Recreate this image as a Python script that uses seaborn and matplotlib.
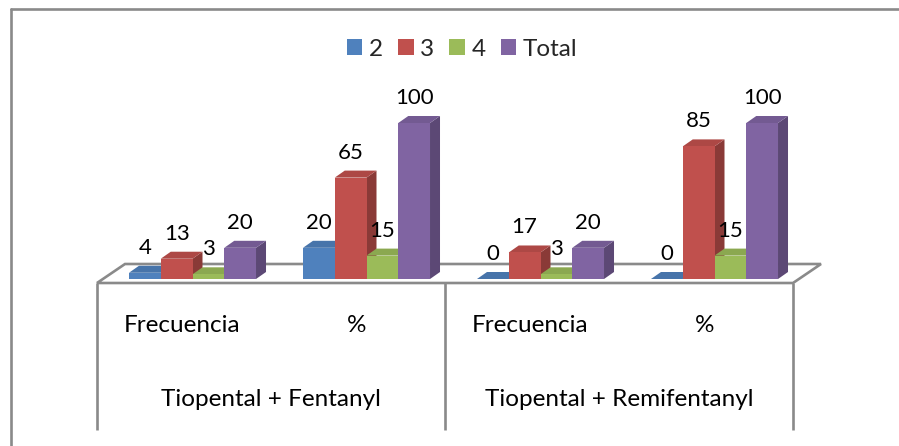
import numpy as np
import pandas as pd
import seaborn as sns
import matplotlib.pyplot as plt
from matplotlib.patches import Polygon, Patch
from matplotlib.lines import Line2D

# ---- data -------------------------------------------------------------
groups = ["Tiopental + Fentanyl", "Tiopental + Remifentanyl"]
categories = ["Frecuencia", "%", "Frecuencia", "%"]
series = ["2", "3", "4", "Total"]
values_2 = [4, 20, 0, 0]
values_3 = [13, 65, 17, 85]
values_4 = [3, 15, 3, 15]
values_total = [20, 100, 20, 100]
colors = ["#4F81BD", "#C0504D", "#9BBB59", "#8064A2"]

series_values = [values_2, values_3, values_4, values_total]
keys = [f"{groups[i // 2]} | {c}" for i, c in enumerate(categories)]
df = pd.DataFrame(
    [(keys[i], s, v) for s, vals in zip(series, series_values) for i, v in enumerate(vals)],
    columns=["key", "serie", "value"],
)

# ---- figure / axes ----------------------------------------------------
sns.set_theme(style="white")
plt.rcParams["font.family"] = ["Lato", "DejaVu Sans"]

W, H = 899, 446
fig = plt.figure(figsize=(W / 100, H / 100), dpi=100)
fig.patch.set_facecolor("white")

PX_CAT = 174.0   # pixels per category
PX_VAL = 1.56    # pixels per value unit
YMAX = 110
ax = fig.add_axes([(192.5 - 0.5 * PX_CAT) / W, 167 / H, 4 * PX_CAT / W, YMAX * PX_VAL / H])

sns.barplot(data=df, x="key", y="value", hue="serie", hue_order=series, order=keys,
            palette=colors, saturation=1, width=0.73, legend=False, ax=ax,
            linewidth=0, edgecolor="none")
ax.set_xlim(-0.5, 3.5)
ax.set_ylim(0, YMAX)
ax.axis("off")

sx = 1.0 / PX_CAT
sy = 1.0 / PX_VAL


def off(x, y, dxp, dyp):
    """Shift a data point by a pixel offset (dyp positive = up)."""
    return (x + dxp * sx, y + dyp * sy)


GRAY = "#8A8A8A"

# floor (3-D base plate)
fl = [off(-0.5, 0, -8.5, -4), off(3.5, 0, -8.5, -4),
      off(3.5, 0, 19.5, 15), off(-0.5, 0, 19.5, 15)]
ax.add_patch(Polygon(fl, closed=True, facecolor="white", edgecolor=GRAY,
                     linewidth=1.9, zorder=1, clip_on=False, joinstyle="miter"))

# multi-level category axis: separators
for b in [-0.5, 1.5, 3.5]:
    x0, y0 = off(b, 0, -8.5, -4)
    _, y1 = off(b, 0, -8.5, -151)
    ax.add_line(Line2D([x0, x0], [y0, y1], color=GRAY, linewidth=1.9, clip_on=False,
                       zorder=1, solid_capstyle="butt"))

for i, c in enumerate(categories):
    x, y = off(i, 0, -10, -47)
    ax.text(x, y, c, ha="center", va="center", fontsize=17.5, color="black", clip_on=False)
for g, name in enumerate(groups):
    x, y = off(0.5 + 2 * g, 0, -8.5, -120)
    ax.text(x, y, name, ha="center", va="center", fontsize=17.5, color="black", clip_on=False)

# ---- 3-D bar faces + value labels -------------------------------------
DX, DY = 10, 7


def shade(col, f):
    r, g, b = plt.matplotlib.colors.to_rgb(col)
    return (r * f, g * f, b * f)


bars = []
for s_idx, cont in enumerate(ax.containers):
    for i, rect in enumerate(cont.patches):
        bars.append((rect.get_x(), rect, colors[s_idx], series_values[s_idx][i]))
bars.sort(key=lambda t: t[0])

for k, (_, rect, col, val) in enumerate(bars):
    x0, w, h = rect.get_x(), rect.get_width(), rect.get_height()
    z = 3 + 0.1 * k
    side = [(x0 + w, 0), off(x0 + w, 0, DX, DY), off(x0 + w, h, DX, DY), (x0 + w, h)]
    top = [(x0, h), (x0 + w, h), off(x0 + w, h, DX, DY), off(x0, h, DX, DY)]
    ax.add_patch(Polygon(side, closed=True, facecolor=shade(col, 0.72), edgecolor="none", zorder=z))
    ax.add_patch(Polygon(top, closed=True, facecolor=shade(col, 0.9), edgecolor="none", zorder=z))
    rect.set_zorder(z + 0.05)
    ax.annotate(f"{val}", (x0 + w / 2, val), xytext=(0, 19), textcoords="offset pixels",
                ha="center", va="baseline", fontsize=16, color="black", zorder=20,
                annotation_clip=False)

# ---- legend -----------------------------------------------------------
handles = [Patch(facecolor=c, edgecolor="none") for c in colors]
fig.legend(handles, series, loc="center", bbox_to_anchor=(462 / W, 1 - 49 / H), ncol=4,
           frameon=False, handlelength=0.65, handleheight=0.65, handletextpad=0.26,
           columnspacing=0.62, fontsize=17.5)

# chart-area border (left and top edges)
fig.add_artist(Line2D([11 / W, 11 / W], [0, 1 - 8.5 / H], color=GRAY, linewidth=1.9))
fig.add_artist(Line2D([11 / W, 1], [1 - 8.5 / H, 1 - 8.5 / H], color=GRAY, linewidth=1.9))

fig.savefig("out.png", dpi=100)
